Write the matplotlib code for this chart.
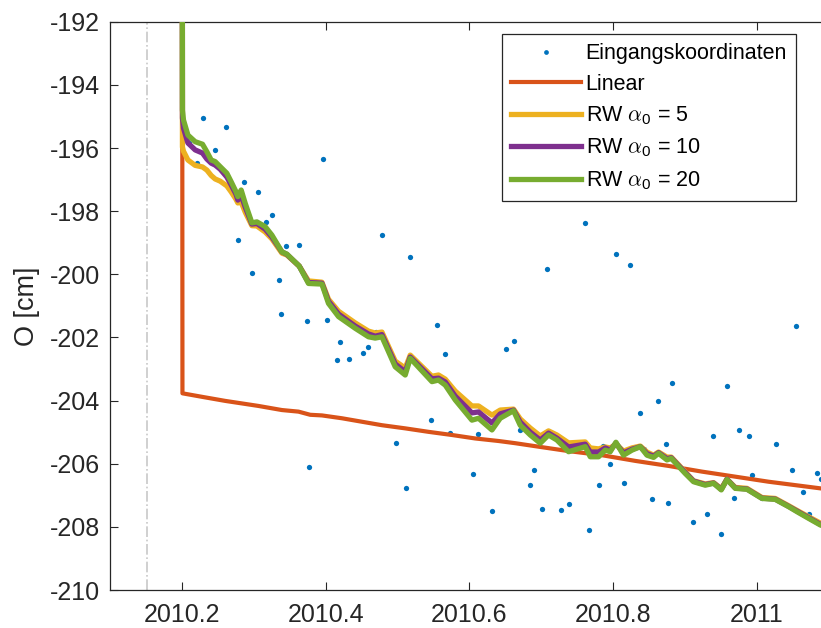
import matplotlib
matplotlib.use("Agg")
import matplotlib.pyplot as plt

plt.rcParams['font.family'] = ['Liberation Sans', 'DejaVu Sans']
plt.rcParams['axes.unicode_minus'] = False
plt.rcParams['mathtext.fontset'] = 'custom'
plt.rcParams['mathtext.rm'] = 'Liberation Sans'
plt.rcParams['mathtext.it'] = 'cmmi10'

# --- input coordinates (epoch in decimal years, O in cm) ---
obs_t = [2010.2102, 2010.2209, 2010.2292, 2010.2454, 2010.2617, 2010.2784, 2010.2867,
         2010.2974, 2010.3058, 2010.3169, 2010.3253, 2010.3358, 2010.3386, 2010.3442,
         2010.3633, 2010.3744, 2010.3772, 2010.3962, 2010.4018, 2010.4157, 2010.4207,
         2010.4319, 2010.4514, 2010.4593, 2010.4700, 2010.4784, 2010.4973, 2010.5112,
         2010.5168, 2010.5470, 2010.5553, 2010.5665, 2010.5738, 2010.6045, 2010.6124,
         2010.6319, 2010.6509, 2010.6621, 2010.6699, 2010.6841, 2010.6894, 2010.7005,
         2010.7084, 2010.7279, 2010.7390, 2010.7609, 2010.7665, 2010.7798, 2010.7854,
         2010.7964, 2010.8045, 2010.8156, 2010.8235, 2010.8379, 2010.8434, 2010.8543,
         2010.8622, 2010.8734, 2010.8761, 2010.8814, 2010.9116, 2010.9307, 2010.9390,
         2010.9499, 2010.9580, 2010.9690, 2010.9747, 2010.9886, 2010.9939, 2011.0067,
         2011.0267, 2011.0487, 2011.0540, 2011.0650, 2011.0732, 2011.0842, 2011.0895]
obs_o = [-195.84, -196.47, -195.04, -196.05, -195.35, -198.92, -197.09,
         -199.95, -197.40, -198.34, -198.12, -200.19, -201.26, -199.10,
         -199.06, -201.48, -206.11, -196.34, -201.45, -202.73, -202.15,
         -202.69, -202.50, -202.29, -201.83, -198.77, -205.35, -206.76,
         -199.46, -204.62, -201.62, -202.54, -205.03, -206.34, -205.07,
         -207.49, -202.36, -202.12, -204.94, -206.67, -206.21, -207.44,
         -199.84, -207.47, -207.29, -198.38, -208.11, -206.67, -205.44,
         -206.01, -199.37, -206.62, -199.71, -204.39, -205.54, -207.12,
         -204.00, -205.39, -207.25, -203.44, -207.85, -207.60, -205.11,
         -208.24, -203.55, -207.09, -204.94, -205.13, -206.35, -207.09,
         -205.38, -206.21, -201.63, -206.90, -207.59, -206.30, -206.47]

# --- linear model ---
lin_t = [2010.2000, 2010.2008, 2010.2278, 2010.2603, 2010.2835, 2010.3066, 2010.3392,
         2010.3623, 2010.3786, 2010.3949, 2010.4227, 2010.4505, 2010.4784, 2010.5108,
         2010.5432, 2010.5758, 2010.6082, 2010.6406, 2010.6639, 2010.6963, 2010.7381,
         2010.7846, 2010.8309, 2010.8773, 2010.9237, 2010.9701, 2011.0164, 2011.0884,
         2011.1200]
lin_o = [-170.00, -203.77, -203.88, -204.01, -204.09, -204.17, -204.30,
         -204.35, -204.45, -204.47, -204.56, -204.67, -204.78, -204.88,
         -204.99, -205.09, -205.20, -205.28, -205.35, -205.46, -205.60,
         -205.73, -205.91, -206.07, -206.25, -206.41, -206.57, -206.78,
         -206.88]

# --- random-walk filter results ---
rw_t = [2010.2000, 2010.2008, 2010.2022, 2010.2084, 2010.2185, 2010.2287, 2010.2348,
        2010.2408, 2010.2463, 2010.2533, 2010.2626, 2010.2686, 2010.2752, 2010.2779,
        2010.2825, 2010.2881, 2010.2974, 2010.3044, 2010.3159, 2010.3253, 2010.3392,
        2010.3461, 2010.3633, 2010.3762, 2010.3949, 2010.4040, 2010.4180, 2010.4412,
        2010.4597, 2010.4690, 2010.4784, 2010.4969, 2010.5108, 2010.5178, 2010.5480,
        2010.5571, 2010.5665, 2010.5804, 2010.6036, 2010.6128, 2010.6315, 2010.6430,
        2010.6615, 2010.6708, 2010.6848, 2010.6987, 2010.7102, 2010.7219, 2010.7381,
        2010.7613, 2010.7683, 2010.7798, 2010.7892, 2010.7961, 2010.8040, 2010.8146,
        2010.8263, 2010.8379, 2010.8472, 2010.8564, 2010.8633, 2010.8750, 2010.8810,
        2010.9005, 2010.9120, 2010.9283, 2010.9399, 2010.9506, 2010.9585, 2010.9701,
        2010.9864, 2011.0072, 2011.0257, 2011.0443, 2011.0560, 2011.0721, 2011.0884,
        2011.1100]

rw5_o = [-170.00, -195.97, -196.10, -196.38, -196.55, -196.60, -196.70,
         -196.87, -196.98, -197.05, -197.20, -197.39, -197.62, -197.74,
         -197.71, -198.03, -198.46, -198.47, -198.66, -198.88, -199.33,
         -199.39, -199.74, -200.21, -200.25, -200.79, -201.17, -201.54,
         -201.80, -201.86, -201.83, -202.75, -202.97, -202.56, -203.23,
         -203.19, -203.32, -203.70, -204.17, -204.17, -204.46, -204.30,
         -204.27, -204.58, -204.87, -205.12, -204.96, -205.09, -205.34,
         -205.31, -205.50, -205.53, -205.47, -205.50, -205.38, -205.60,
         -205.50, -205.44, -205.63, -205.73, -205.63, -205.79, -205.79,
         -206.26, -206.54, -206.64, -206.60, -206.79, -206.49, -206.75,
         -206.78, -207.07, -207.10, -207.33, -207.48, -207.68, -207.88,
         -208.04]

rw10_o = [-170.00, -195.05, -195.37, -195.84, -196.06, -196.16, -196.35,
          -196.48, -196.54, -196.67, -196.92, -197.17, -197.46, -197.65,
          -197.49, -197.87, -198.41, -198.39, -198.57, -198.82, -199.29,
          -199.37, -199.74, -200.26, -200.28, -200.85, -201.26, -201.64,
          -201.89, -201.96, -201.91, -202.84, -203.09, -202.62, -203.31,
          -203.29, -203.41, -203.86, -204.39, -204.36, -204.71, -204.42,
          -204.30, -204.68, -205.00, -205.25, -205.03, -205.19, -205.47,
          -205.38, -205.63, -205.63, -205.50, -205.57, -205.35, -205.66,
          -205.54, -205.46, -205.68, -205.76, -205.65, -205.84, -205.81,
          -206.28, -206.55, -206.66, -206.61, -206.81, -206.49, -206.77,
          -206.80, -207.09, -207.12, -207.35, -207.50, -207.71, -207.92,
          -208.08]

rw20_o = [-170.00, -194.80, -195.11, -195.59, -195.80, -195.88, -196.12,
          -196.38, -196.43, -196.59, -196.80, -197.07, -197.38, -197.54,
          -197.33, -197.75, -198.37, -198.34, -198.49, -198.76, -199.29,
          -199.36, -199.74, -200.29, -200.31, -200.92, -201.34, -201.71,
          -201.98, -202.02, -201.98, -202.93, -203.19, -202.66, -203.40,
          -203.35, -203.51, -203.98, -204.62, -204.56, -204.93, -204.56,
          -204.32, -204.78, -205.09, -205.35, -205.09, -205.25, -205.62,
          -205.46, -205.78, -205.78, -205.57, -205.62, -205.32, -205.73,
          -205.57, -205.46, -205.73, -205.80, -205.67, -205.88, -205.83,
          -206.31, -206.57, -206.68, -206.62, -206.83, -206.50, -206.78,
          -206.81, -207.10, -207.13, -207.36, -207.52, -207.73, -207.94,
          -208.10]

t_start = 2010.152
y_ticks = [-210, -208, -206, -204, -202, -200, -198, -196, -194, -192]
x_ticks = [2010.2, 2010.4, 2010.6, 2010.8, 2011.0]
x_ticklabels = ['2010.2', '2010.4', '2010.6', '2010.8', '2011']

c_obs = '#0072BD'
c_lin = '#D95319'
c_rw5 = '#EDB120'
c_rw10 = '#7E2F8E'
c_rw20 = '#77AC30'
c_ax = '#262626'

fig = plt.figure(figsize=(8.21, 6.28), dpi=100)
ax = fig.add_axes([0.134, 0.0605, 0.8753, 0.9049])

ax.axvline(t_start, color='#c8c8c8', lw=1.2, ls='-.', zorder=1)
ax.plot(obs_t, obs_o, ls='none', marker='o', ms=3.8, mec='none', mfc=c_obs,
        label='Eingangskoordinaten', zorder=2)
ax.plot(lin_t, lin_o, color=c_lin, lw=3.0, label='Linear', zorder=3)
ax.plot(rw_t, rw5_o, color=c_rw5, lw=3.8, label=r'RW $\alpha_0$ = 5', zorder=4)
ax.plot(rw_t, rw10_o, color=c_rw10, lw=3.8, label=r'RW $\alpha_0$ = 10', zorder=5)
ax.plot(rw_t, rw20_o, color=c_rw20, lw=3.8, label=r'RW $\alpha_0$ = 20', zorder=6)

ax.set_xlim(2010.1, 2011.1)
ax.set_ylim(-210, -192)
ax.set_yticks(y_ticks)
ax.set_yticklabels([str(v) for v in y_ticks])
ax.set_xticks(x_ticks)
ax.set_xticklabels(x_ticklabels)
ax.tick_params(direction='in', length=6, width=0.8, colors=c_ax, labelsize=18,
               top=True, right=True)
ax.tick_params(axis='x', pad=9)
ax.tick_params(axis='y', pad=7)
for s in ax.spines.values():
    s.set_color(c_ax)
    s.set_linewidth(0.9)

ax.set_ylabel('O [cm]', fontsize=19.5, color=c_ax)
ax.yaxis.set_label_coords(-0.097, 0.5)

leg = ax.legend(loc='upper right', bbox_to_anchor=(796 / 821, 1 - 34 / 628),
                bbox_transform=fig.transFigure, borderaxespad=0, fontsize=15.5,
                frameon=True, fancybox=False, framealpha=1, edgecolor=c_ax,
                handlelength=3.25, handletextpad=0.22, labelspacing=0.45,
                borderpad=0.42, numpoints=1, markerscale=0.9)
leg.get_frame().set_linewidth(0.9)

fig.savefig('out.png', dpi=100)
